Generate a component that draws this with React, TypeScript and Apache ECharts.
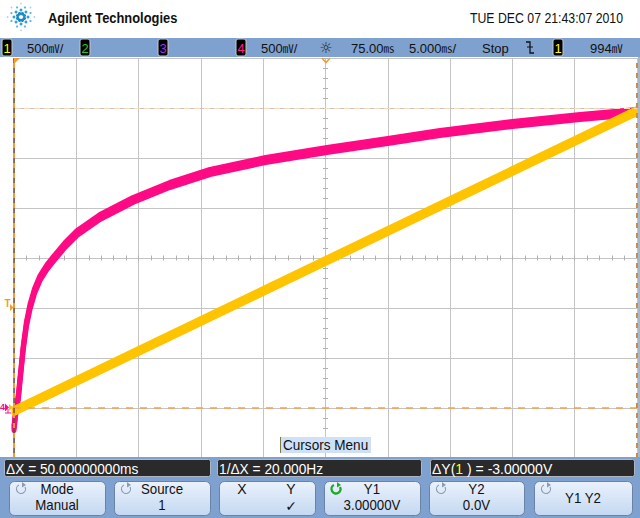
import React, { useEffect, useRef } from "react";
import * as echarts from "echarts";

// ---------------- data ----------------
const xRange = [50, 100]; // ms : 75 ms centre, 5 ms/div
const yRange = [-0.5, 3.5]; // V : 500 mV/div, ground at 0 V
const timeMs = [50, 55, 60, 65, 70, 75, 80, 85, 90, 95, 100];
const ch1Volts = [-0.03, 0.27, 0.57, 0.87, 1.17, 1.47, 1.77, 2.07, 2.37, 2.67, 2.97];
const ch4TimeMs = [50, 50.13, 50.35, 50.48, 50.75, 51.0, 51.28, 51.65, 52.09, 52.65, 53.29, 54.1, 55.06, 56.9, 59.55, 62.5, 65.73, 70.2, 75.12, 80.0, 84.19, 90.0, 95.43, 100];
const ch4Volts = [-0.2, -0.05, 0.11, 0.28, 0.61, 0.84, 1.01, 1.17, 1.3, 1.41, 1.51, 1.63, 1.75, 1.91, 2.08, 2.23, 2.36, 2.48, 2.58, 2.67, 2.75, 2.84, 2.91, 2.96];
const cursorXms = [50, 100];
const cursorYvolts = [3.0, 0.0];

const headerTitle = "Agilent Technologies";
const headerDate = "TUE DEC 07 21:43:07 2010";
const readouts = ["ΔX = 50.00000000ms", "1/ΔX = 20.000Hz", "-3.00000V"];
const buttonTop = ["Mode", "Source", "", "Y1", "Y2", "Y1 Y2"];
const buttonBottom = ["Manual", "1", "", "3.00000V", "0.0V", ""];

// ---------------- styling ----------------
const FONT = '"Liberation Sans", Arial, sans-serif';
const CJK = '"Noto Sans CJK SC", "Liberation Sans", sans-serif';
const YELLOW = "#ffc400";
const MAGENTA = "#ff0a84";
const GRID = "#c4c4c4";
const BAR = "#7fa1cf";
const ORANGE = "#f59a30";

function txt(x: number, y: number, text: string, o: any = {}) {
  return {
    type: "text",
    x,
    y,
    z: 100,
    scaleX: o.sx ?? 1,
    silent: true,
    style: {
      text,
      fill: o.fill ?? "#111",
      fontSize: o.size ?? 14,
      fontFamily: o.family ?? FONT,
      fontWeight: o.weight ?? "normal",
      align: o.align ?? "left",
      verticalAlign: "middle",
      textAlign: o.align ?? "left",
      textVerticalAlign: "middle",
      rich: o.rich,
    },
  };
}

function rect(x: number, y: number, w: number, h: number, fill: any, o: any = {}) {
  return {
    type: "rect",
    z: o.z ?? 90,
    silent: true,
    shape: { x, y, width: w, height: h, r: o.r ?? 0 },
    style: { fill, stroke: o.stroke ?? null, lineWidth: o.lw ?? 1 },
  };
}

function unitText(x: number, y: number, num: string, unit: string, tail: string) {
  return txt(x, y, `{n|${num}}{u|${unit}}{n|${tail}}`, {
    rich: {
      n: { fontSize: 13, fontFamily: FONT, fill: "#111" },
      u: { fontSize: 11, fontFamily: CJK, fill: "#111" },
    },
  });
}

function chanBox(x: number, label: string, color: string) {
  return [
    rect(x, 39, 10, 17, "#000", { r: 2, stroke: "#c8c8c8", z: 95 }),
    txt(x + 5, 48, label, { fill: color, size: 13, align: "center" }),
  ];
}

function refreshIcon(cx: number, cy: number, color: string, lw: number) {
  return [
    {
      type: "arc",
      z: 100,
      silent: true,
      shape: { cx, cy, r: 4.5, startAngle: -Math.PI * 0.15, endAngle: Math.PI * 1.35 },
      style: { stroke: color, lineWidth: lw, fill: null },
    },
    {
      type: "polygon",
      z: 100,
      silent: true,
      shape: { points: [[cx + 1, cy - 7], [cx + 5, cy - 4], [cx + 1, cy - 1.5]] },
      style: { fill: color },
    },
  ];
}

function buildGraphic() {
  const g: any[] = [];
  // logo
  const rings = [
    { r: 3.6, s: 1.7, c: "#1a8ac4", off: 22.5 },
    { r: 7, s: 1.45, c: "#2c9fd6", off: 0 },
    { r: 10.3, s: 1.1, c: "#5ab7e3", off: 22.5 },
    { r: 13.4, s: 0.8, c: "#9ad2ef", off: 0 },
  ];
  rings.forEach((rg) => {
    for (let k = 0; k < 8; k++) {
      const a = ((k * 45 + rg.off) * Math.PI) / 180;
      g.push({
        type: "circle",
        z: 100,
        silent: true,
        shape: { cx: 21 + rg.r * Math.cos(a), cy: 17 + rg.r * Math.sin(a), r: rg.s },
        style: { fill: rg.c },
      });
    }
  });
  g.push(txt(48, 18, headerTitle, { weight: "bold", size: 15, sx: 0.86, fill: "#111" }));
  g.push(txt(623, 18, headerDate, { size: 15, sx: 0.82, align: "right", fill: "#111" }));

  // status bar
  g.push(rect(0, 38, 640, 19, BAR));
  g.push(...chanBox(2, "1", "#ffff00"));
  g.push(unitText(27, 48, "500", "㎷", "/"));
  g.push(...chanBox(80, "2", "#22cc22"));
  g.push(...chanBox(158, "3", "#a030e8"));
  g.push(...chanBox(236, "4", "#ff2090"));
  g.push(unitText(261, 48, "500", "㎷", "/"));
  g.push(txt(326, 48, "☼", { size: 15, align: "center", family: '"DejaVu Sans", sans-serif', fill: "#222" }));
  g.push(unitText(351, 48, "75.00", "㎳", ""));
  g.push(unitText(409, 48, "5.000", "㎳", "/"));
  g.push(txt(482, 48, "Stop", { size: 13 }));
  g.push({
    type: "polyline",
    z: 100,
    silent: true,
    shape: { points: [[526, 42], [530, 42], [530, 53], [534, 53]] },
    style: { stroke: "#111", lineWidth: 1.3, fill: null },
  });
  g.push({
    type: "line",
    z: 100,
    silent: true,
    shape: { x1: 527, y1: 47, x2: 533, y2: 47 },
    style: { stroke: "#111", lineWidth: 1 },
  });
  g.push(...chanBox(553, "1", "#ffff00"));
  g.push(unitText(590, 48, "994", "㎷", ""));

  // right margin strip
  g.push(rect(638, 57, 2, 401, "#a9b7c9"));

  // plot markers
  g.push({ type: "polygon", z: 100, silent: true, shape: { points: [[14, 58], [20, 58], [14, 64]] }, style: { fill: ORANGE } });
  g.push({
    type: "polyline",
    z: 100,
    silent: true,
    shape: { points: [[322, 58], [326, 62.5], [330, 58]] },
    style: { stroke: ORANGE, lineWidth: 1.5, fill: null },
  });
  g.push(txt(7.5, 303, "T", { fill: "#f0a020", size: 10, weight: "bold", align: "center" }));
  g.push({ type: "polygon", z: 100, silent: true, shape: { points: [[10, 304], [13.5, 307.5], [10, 311]] }, style: { fill: "#f0a020" } });
  g.push(txt(2.5, 407, "4", { fill: MAGENTA, size: 9, weight: "bold", align: "center" }));
  g.push({ type: "polygon", z: 100, silent: true, shape: { points: [[5, 403.5], [9, 407.5], [5, 411.5]] }, style: { fill: MAGENTA } });
  g.push({ type: "polygon", z: 100, silent: true, shape: { points: [[9, 404], [13, 407.5], [9, 411]] }, style: { fill: YELLOW } });
  g.push({ type: "line", z: 100, silent: true, shape: { x1: 5, y1: 413, x2: 11, y2: 413 }, style: { stroke: MAGENTA, lineWidth: 1 } });
  g.push({ type: "line", z: 100, silent: true, shape: { x1: 8, y1: 409, x2: 8, y2: 413 }, style: { stroke: MAGENTA, lineWidth: 1 } });

  // cursors menu label
  g.push(rect(280, 437, 91, 16, "#cfe1f7", { z: 95 }));
  g.push({ type: "line", z: 96, silent: true, shape: { x1: 280.5, y1: 437, x2: 280.5, y2: 453 }, style: { stroke: "#7c7a4a", lineWidth: 1 } });
  g.push(txt(283, 445.5, "Cursors Menu", { size: 14, sx: 0.97 }));

  // bottom panel
  g.push(rect(0, 457, 640, 61, BAR));
  const boxes = [
    [4, 206],
    [217, 204],
    [430, 204],
  ];
  boxes.forEach(([x, w]) => g.push(rect(x + 0.5, 459.5, w, 17, "#2a2a2a", { r: 2, stroke: "#aeb6c2", z: 95 })));
  g.push(txt(6, 468.5, readouts[0], { fill: "#fff", size: 14, sx: 0.98 }));
  g.push(txt(219, 468.5, readouts[1], { fill: "#fff", size: 14, sx: 0.98 }));
  g.push(
    txt(432, 468.5, `{a|ΔY(}{b|1}{a| ) = ${readouts[2]}}`, {
      rich: {
        a: { fill: "#fff", fontSize: 14, fontFamily: FONT },
        b: { fill: "#ffff00", fontSize: 14, fontFamily: FONT },
      },
    })
  );

  const btnX = [
    [9, 96],
    [114, 96],
    [219, 96],
    [324, 96],
    [429, 95],
    [534, 98],
  ];
  btnX.forEach(([x, w], i) => {
    g.push(
      rect(x + 0.5, 481.5, w, 34, new echarts.graphic.LinearGradient(0, 0, 0, 1, [
        { offset: 0, color: "#eaf2fc" },
        { offset: 1, color: "#c4d8f1" },
      ]), { r: 5, stroke: "#6a82a4", z: 95 })
    );
    const cx = x + w / 2;
    if (i !== 2) {
      if (i === 3) g.push(...refreshIcon(x + 12, 489, "#1fa82a", 2.4));
      else g.push(...refreshIcon(x + 12, 489, "#8c9cb2", 1.2));
    }
    if (i === 2) {
      g.push(txt(242, 489, "X", { size: 14, align: "center" }));
      g.push(txt(291, 489, "Y", { size: 14, align: "center" }));
      g.push(txt(291, 506, "✓", { size: 14, align: "center", family: '"DejaVu Sans", sans-serif' }));
    } else if (buttonBottom[i] === "") {
      g.push(txt(cx, 498.5, buttonTop[i], { size: 14, align: "center", sx: 0.95 }));
    } else {
      g.push(txt(cx, 489, buttonTop[i], { size: 14, align: "center", sx: 0.95 }));
      g.push(txt(cx, 505, buttonBottom[i], { size: 14, align: "center", sx: 0.95 }));
    }
  });
  return g;
}

const plot = { left: 14, top: 58, width: 623, height: 400 };
const bandOffsets = [0, -2.5, 2.5]; // vertical noise band of the traces

function hiddenX(gi: number) {
  return { type: "value", gridIndex: gi, min: xRange[0], max: xRange[1], show: false, splitLine: { show: false } };
}
function hiddenY(gi: number) {
  return { type: "value", gridIndex: gi, min: yRange[0], max: yRange[1], show: false, splitLine: { show: false } };
}
function tickX(inside: boolean) {
  return {
    type: "value",
    gridIndex: 0,
    min: xRange[0],
    max: xRange[1],
    interval: 1,
    position: "bottom",
    offset: -200,
    axisLine: { show: false },
    axisTick: { show: true, inside, length: 2.5, lineStyle: { color: "#b0b0b0" } },
    axisLabel: { show: false },
    splitLine: { show: false },
  };
}
function tickY(inside: boolean) {
  return {
    type: "value",
    gridIndex: 0,
    min: yRange[0],
    max: yRange[1],
    interval: 0.1,
    position: "left",
    offset: -311.5,
    axisLine: { show: false },
    axisTick: { show: true, inside, length: 2.5, lineStyle: { color: "#b0b0b0" } },
    axisLabel: { show: false },
    splitLine: { show: false },
  };
}

// axis index for band copy k: 0 -> main axes, 1 -> index 3, 2 -> index 4
const bandAxis = (k: number) => (k === 0 ? 0 : k + 2);

function trace(xs: number[], ys: number[], color: string, axis: number) {
  return {
    type: "line",
    xAxisIndex: axis,
    yAxisIndex: axis,
    data: xs.map((x, i) => [x, ys[i]]),
    symbol: "none",
    showSymbol: false,
    smooth: false,
    silent: true,
    lineStyle: { color, width: 5, join: "round", cap: "round" },
  };
}

export default function App() {
  const ref = useRef<HTMLDivElement>(null);
  useEffect(() => {
    document.body.style.margin = "0";
    if (!ref.current) return;
    const chart = echarts.init(ref.current, undefined, { renderer: "svg" });
    const cursorStyle = (color: string, width: number, type: any) => ({ color, width, type });
    chart.setOption({
      animation: false,
      backgroundColor: "#ffffff",
      grid: bandOffsets.map((d) => ({ ...plot, top: plot.top + d })),
      xAxis: [
        {
          type: "value",
          gridIndex: 0,
          min: xRange[0],
          max: xRange[1],
          interval: 5,
          axisLine: { show: false },
          axisTick: { show: false },
          axisLabel: { show: false },
          splitLine: { show: true, lineStyle: { color: GRID, width: 1 } },
        },
        tickX(true),
        tickX(false),
        hiddenX(1),
        hiddenX(2),
      ],
      yAxis: [
        {
          type: "value",
          gridIndex: 0,
          min: yRange[0],
          max: yRange[1],
          interval: 0.5,
          axisLine: { show: false },
          axisTick: { show: false },
          axisLabel: { show: false },
          splitLine: { show: true, lineStyle: { color: GRID, width: 1 } },
        },
        tickY(true),
        tickY(false),
        hiddenY(1),
        hiddenY(2),
      ],
      series: [
        {
          type: "line",
          xAxisIndex: 0,
          yAxisIndex: 0,
          data: timeMs.map((x, i) => [x, ch1Volts[i]]),
          symbol: "none",
          lineStyle: { opacity: 0 },
          silent: true,
          markLine: {
            silent: true,
            symbol: ["none", "none"],
            label: { show: false },
            data: [
              { yAxis: cursorYvolts[0], lineStyle: cursorStyle("#f8d8b6", 1, [6, 4]) },
              { yAxis: cursorYvolts[1], lineStyle: cursorStyle("#f6a04a", 1.5, [7, 7]) },
              { xAxis: cursorXms[0], lineStyle: cursorStyle("#6b4b30", 1.5, "solid") },
              { xAxis: cursorXms[0], lineStyle: cursorStyle(ORANGE, 2, [5, 5]) },
              { xAxis: cursorXms[1], lineStyle: cursorStyle("#c98a4a", 2, [5, 5]) },
            ],
          },
        },
        ...bandOffsets.map((_, k) => trace(ch4TimeMs, ch4Volts, MAGENTA, bandAxis(k))),
        ...bandOffsets.map((_, k) => trace(timeMs, ch1Volts, YELLOW, bandAxis(k))),
      ],
      graphic: { elements: buildGraphic() },
    });
    return () => chart.dispose();
  }, []);
  return <div ref={ref} style={{ width: 640, height: 518 }} />;
}
